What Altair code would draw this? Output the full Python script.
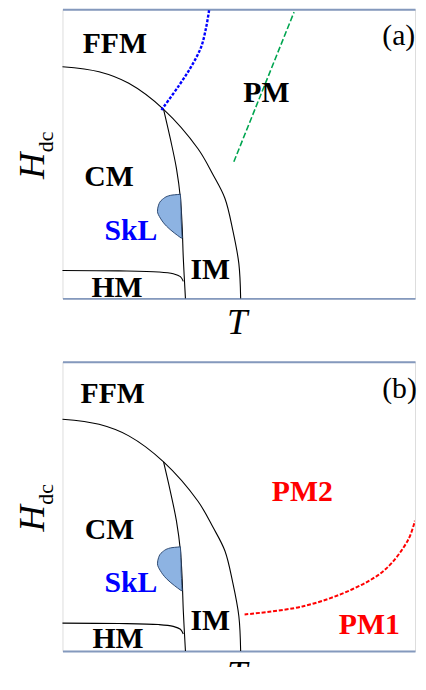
import altair as alt
import pandas as pd

FONT = "Liberation Serif"
FRAME = "#8499bd"

# ---- phase boundaries (T, H in arbitrary units) ----
outer_T = [0.0, 1.02, 1.85, 2.82, 3.78, 4.20, 4.53, 4.75, 4.92, 4.97]
outer_H = [6.41, 6.27, 5.95, 5.23, 4.14, 3.42, 2.77, 1.89, 0.96, 0.0]

inner_T = [2.82, 3.01, 3.18, 3.29, 3.34, 3.37, 3.43]
inner_H = [5.23, 4.41, 3.59, 2.77, 1.95, 1.12, 0.0]

hm_T = [0.0, 1.57, 2.68, 3.09, 3.29, 3.37]
hm_H = [0.77, 0.76, 0.73, 0.68, 0.60, 0.47]

# skyrmion lattice pocket: H levels with left and right T boundaries
skl_H = [2.88, 2.85, 2.74, 2.58, 2.41, 2.22, 2.00, 1.81, 1.67]
skl_Tl = [3.29, 3.01, 2.79, 2.68, 2.65, 2.73, 2.90, 3.12, 3.31]
skl_Tr = [3.29, 3.29, 3.30, 3.30, 3.31, 3.31, 3.32, 3.33, 3.34]

# dashed crossovers
blue_T = [2.76, 3.23, 3.59, 3.87, 4.01, 4.09]
blue_H = [5.21, 5.86, 6.41, 6.96, 7.51, 7.97]

green_T = [4.78, 6.46]
green_H = [3.78, 7.92]

red_T = [5.08, 6.69, 8.07, 9.00, 9.64, 9.83]
red_H = [1.01, 1.23, 1.70, 2.25, 3.07, 3.60]

# ---- region labels ----
lab_a = ["FFM", "PM", "CM", "SkL", "IM", "HM"]
lab_a_T = [1.46, 5.69, 1.30, 1.91, 4.12, 1.52]
lab_a_H = [6.79, 5.42, 3.10, 1.62, 0.55, 0.03]
lab_a_col = ["black", "black", "black", "#0000ff", "black", "black"]

lab_b = ["FFM", "PM2", "CM", "SkL", "IM", "HM", "PM1"]
lab_b_T = [1.40, 6.69, 1.31, 1.91, 4.12, 1.55, 8.56]
lab_b_H = [6.85, 4.14, 3.10, 1.62, 0.58, 0.08, 0.47]
lab_b_col = ["black", "#ff0000", "black", "#0000ff", "black", "black", "#ff0000"]

tags = ["(a)", "(b)"]
tag_T = [9.38, 9.40]
tag_H = [7.01, 7.01]

# axis titles
y_title = ["H", "dc"]
x_title = "T"

W, Hh = 356, 292
XMAX = 9.834
xs = alt.Scale(domain=[0, XMAX], nice=False, zero=False)
ys = alt.Scale(domain=[0, 8], nice=False, zero=False)


def curve_df(curves):
    rows = []
    for name, ts, hs in curves:
        for i, (t, h) in enumerate(zip(ts, hs)):
            rows.append({"curve": name, "T": t, "H": h, "i": i})
    return pd.DataFrame(rows)


bottom_axis = alt.Axis(
    title=x_title, labels=False, ticks=False, grid=False,
    domainColor=FRAME, domainWidth=2,
    titleFont=FONT, titleFontSize=37, titleFontStyle="italic",
    titleFontWeight="normal", titleColor="black",
    titleBaseline="alphabetic", titleAlign="center", titleX=176, titleY=35,
)
left_axis = alt.Axis(
    title=None, labels=False, ticks=False, grid=False,
    domainColor=FRAME, domainWidth=2,
)
top_axis = alt.Axis(
    orient="top", title=None, labels=False, ticks=False, grid=False,
    domainColor=FRAME, domainWidth=2,
)


def panel(labels, lt, lh, lc, dashed, tag, tt, th):
    solid = alt.Chart(curve_df([
        ("outer", outer_T, outer_H),
        ("inner", inner_T, inner_H),
        ("hm", hm_T, hm_H),
    ])).mark_line(color="black", strokeWidth=1.1, interpolate="catmull-rom").encode(
        x=alt.X("T:Q", scale=xs, axis=bottom_axis),
        y=alt.Y("H:Q", scale=ys, axis=left_axis),
        detail="curve:N",
        order="i:Q",
    )
    skl = alt.Chart(pd.DataFrame({"H": skl_H, "Tl": skl_Tl, "Tr": skl_Tr})).mark_area(
        orient="horizontal", fill="#8db3e2", stroke="#2e4a72", strokeWidth=1,
        interpolate="monotone",
    ).encode(
        y=alt.Y("H:Q", scale=ys, axis=None),
        x=alt.X("Tl:Q", scale=xs, axis=None),
        x2="Tr:Q",
    )
    dash_layers = []
    for ts, hs, col, dsh, sw in dashed:
        dash_layers.append(
            alt.Chart(curve_df([("d", ts, hs)])).mark_line(
                color=col, strokeDash=dsh, strokeWidth=sw, clip=True,
                interpolate="catmull-rom",
            ).encode(
                x=alt.X("T:Q", scale=xs, axis=None),
                y=alt.Y("H:Q", scale=ys, axis=None),
                order="i:Q",
            )
        )
    text = alt.Chart(pd.DataFrame({"lab": labels, "T": lt, "H": lh, "c": lc})).mark_text(
        font=FONT, fontSize=30, fontWeight="bold", baseline="alphabetic", align="center",
    ).encode(
        x=alt.X("T:Q", scale=xs, axis=top_axis),
        y=alt.Y("H:Q", scale=ys, axis=None),
        text="lab:N",
        color=alt.Color("c:N", scale=None),
    )
    tagc = alt.Chart(pd.DataFrame({"lab": [tag], "T": [tt], "H": [th]})).mark_text(
        font=FONT, fontSize=30, baseline="alphabetic", align="center", color="black",
    ).encode(
        x=alt.X("T:Q", scale=xs, axis=None),
        y=alt.Y("H:Q", scale=ys, axis=None),
        text="lab:N",
    )
    hmain = alt.Chart(pd.DataFrame({"t": [y_title[0]]})).mark_text(
        font=FONT, fontSize=37, fontStyle="italic", angle=270, align="center",
        baseline="alphabetic", color="black",
    ).encode(text="t:N", x=alt.value(-19), y=alt.value(158))
    sub = alt.Chart(pd.DataFrame({"t": [y_title[1]]})).mark_text(
        font=FONT, fontSize=22, angle=270, align="center", baseline="alphabetic",
        color="black",
    ).encode(text="t:N", x=alt.value(-10), y=alt.value(134))
    return alt.layer(solid, skl, *dash_layers, text, tagc, hmain, sub).resolve_axis(
        x="independent"
    ).properties(width=W, height=Hh)


pa = panel(lab_a, lab_a_T, lab_a_H, lab_a_col,
           [(blue_T, blue_H, "#0000ff", [3, 1.6], 2.4),
            (green_T, green_H, "#00a550", [6, 2.5], 1.6)],
           tags[0], tag_T[0], tag_H[0])
pb = panel(lab_b, lab_b_T, lab_b_H, lab_b_col,
           [(red_T, red_H, "#ff0000", [4, 1.8], 2.0)],
           tags[1], tag_T[1], tag_H[1])

chart = alt.vconcat(pa, pb, spacing=20).properties(
    padding={"left": 5, "top": -3, "right": 0, "bottom": -30},
).configure_view(stroke=None).configure(background="white")

chart.save("out.html", embed_options={"renderer": "svg", "actions": False})
